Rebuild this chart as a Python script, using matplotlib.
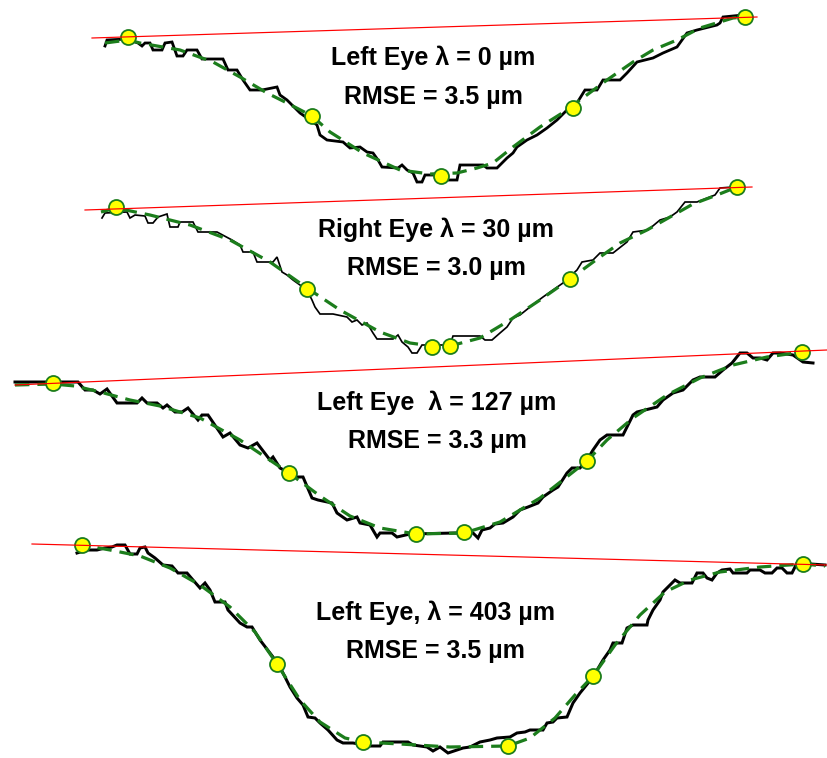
import matplotlib
matplotlib.use("Agg")
import matplotlib.pyplot as plt

# ---------------- data (x = lateral position, y = depth, in image units) ----------------
# Panel 1: Left Eye, lambda = 0
p1_x = [105, 107, 127, 138, 142, 145, 150, 153, 162, 165, 172, 177, 183, 187, 197, 202, 223, 228, 237, 243,
        250, 262, 277, 280, 287, 300, 317, 320, 327, 343, 350, 360, 367, 373, 378, 382, 398, 402, 407, 413,
        417, 422, 425, 437, 447, 457, 460, 483, 487, 497, 507, 513, 517, 527, 537, 547, 557, 567, 577, 585,
        597, 603, 620, 627, 637, 653, 663, 677, 687, 697, 717, 720, 723, 743]
p1_y = [46, 40, 39, 43, 46, 43, 43, 50, 50, 43, 42, 56, 56, 50, 50, 59, 59, 70, 70, 80,
        90, 90, 87, 95, 100, 113, 125, 135, 140, 142, 148, 147, 152, 153, 160, 167, 168, 165, 170, 173,
        182, 182, 175, 175, 180, 180, 165, 165, 168, 168, 158, 153, 147, 140, 135, 128, 120, 110, 103, 90,
        90, 80, 80, 73, 62, 58, 53, 47, 33, 30, 25, 23, 17, 15]
p1_fit_x = [105, 128, 140, 180, 213, 240, 267, 287, 312, 330, 363, 400, 430, 457, 477, 493, 513, 540, 567, 580, 607, 633, 653, 677, 700, 733, 745]
p1_fit_y = [43, 40, 43, 50, 62, 77, 93, 103, 116, 132, 153, 170, 174, 173, 168, 163, 147, 127, 110, 100, 80, 62, 50, 40, 28, 18, 17]
p1_mark_x = [128, 312, 441, 573, 745]
p1_mark_y = [37, 116, 176, 108, 17]
p1_ref_x = [92, 757]
p1_ref_y = [38, 17]

# Panel 2: Right Eye, lambda = 30
p2_x = [102, 105, 127, 130, 135, 145, 148, 153, 158, 167, 170, 178, 180, 193, 198, 217, 232, 240, 243, 253,
        257, 273, 277, 282, 287, 293, 307, 312, 315, 320, 333, 347, 352, 357, 362, 367, 373, 377, 393, 398,
        402, 408, 412, 417, 422, 450, 453, 480, 485, 492, 500, 507, 513, 520, 535, 543, 553, 563, 577, 582,
        593, 600, 613, 627, 633, 648, 660, 670, 677, 685, 697, 715, 720, 733]
p2_y = [218, 213, 212, 218, 215, 216, 223, 223, 217, 214, 227, 227, 222, 222, 232, 232, 240, 245, 252, 252,
        262, 262, 257, 272, 275, 280, 290, 300, 307, 314, 314, 317, 322, 320, 325, 323, 333, 339, 339, 335,
        342, 347, 353, 353, 345, 345, 336, 336, 340, 340, 333, 327, 318, 315, 303, 297, 290, 283, 270, 262,
        260, 253, 253, 242, 232, 230, 220, 217, 212, 202, 202, 195, 188, 187]
p2_fit_x = [101, 116, 150, 190, 230, 270, 307, 340, 380, 410, 432, 450, 480, 510, 540, 570, 600, 620, 647, 670, 693, 717, 737]
p2_fit_y = [212, 208, 215, 225, 240, 262, 288, 310, 332, 343, 346, 346, 338, 320, 300, 279, 257, 243, 230, 217, 204, 195, 187]
p2_mark_x = [116, 307, 432, 450, 570, 737]
p2_mark_y = [207, 289, 347, 346, 279, 187]
p2_ref_x = [85, 752]
p2_ref_y = [210, 187]

# Panel 3: Left Eye, lambda = 127
p3_x = [15, 78, 85, 93, 100, 107, 117, 137, 142, 147, 157, 163, 167, 175, 182, 188, 198, 202, 208, 223,
        230, 240, 248, 257, 270, 273, 280, 297, 303, 312, 318, 332, 337, 347, 357, 360, 370, 377, 380, 392,
        397, 410, 455, 473, 478, 482, 490, 495, 503, 513, 520, 528, 538, 543, 553, 558, 567, 572, 580, 587,
        593, 600, 607, 623, 633, 637, 657, 663, 673, 683, 693, 700, 715, 723, 732, 740, 747, 753, 760, 767,
        773, 780, 793, 803, 813]
p3_y = [382, 382, 390, 390, 394, 389, 403, 403, 398, 403, 403, 408, 405, 412, 412, 408, 420, 415, 415, 437,
        433, 445, 448, 443, 460, 457, 468, 477, 477, 498, 500, 503, 513, 520, 517, 523, 525, 537, 533, 533,
        537, 534, 533, 533, 538, 530, 528, 524, 523, 517, 510, 507, 503, 497, 490, 487, 473, 468, 468, 460,
        450, 440, 435, 435, 415, 412, 407, 400, 393, 390, 380, 377, 377, 370, 363, 353, 353, 358, 358, 360,
        353, 353, 355, 362, 363]
p3_fit_x = [15, 53, 75, 100, 130, 160, 200, 240, 289, 320, 350, 380, 416, 464, 500, 540, 587, 607, 633, 667, 700, 733, 767, 802]
p3_fit_y = [385, 384, 386, 392, 400, 406, 418, 440, 473, 496, 516, 528, 534, 533, 522, 498, 461, 440, 418, 395, 378, 365, 357, 352]
p3_mark_x = [53, 289, 416, 464, 587, 802]
p3_mark_y = [383, 473, 534, 532, 461, 352]
p3_ref_x = [15, 827]
p3_ref_y = [385, 350]

# Panel 4: Left Eye, lambda = 403
p4_x = [77, 87, 97, 105, 112, 117, 125, 130, 137, 140, 145, 148, 155, 163, 172, 178, 187, 193, 200, 205,
        210, 215, 225, 228, 240, 247, 252, 260, 273, 280, 290, 297, 303, 308, 315, 320, 328, 337, 343, 353,
        370, 380, 383, 408, 413, 427, 433, 440, 448, 457, 463, 470, 480, 490, 497, 510, 517, 525, 530, 543,
        547, 553, 557, 567, 573, 580, 593, 603, 610, 613, 622, 627, 633, 647, 648, 653, 660, 663, 668, 675,
        680, 692, 697, 703, 707, 712, 717, 722, 730, 733, 747, 750, 760, 765, 772, 777, 782, 787, 792, 797,
        825]
p4_y = [553, 550, 550, 548, 547, 545, 545, 554, 554, 548, 547, 553, 558, 565, 566, 573, 573, 580, 588, 583,
        590, 602, 602, 610, 623, 627, 627, 640, 657, 667, 687, 698, 705, 717, 718, 723, 730, 740, 743, 743,
        746, 746, 742, 742, 745, 747, 751, 747, 753, 750, 748, 747, 742, 740, 738, 737, 733, 732, 730, 730,
        723, 722, 718, 717, 703, 693, 677, 660, 650, 643, 643, 628, 625, 625, 620, 610, 600, 592, 587, 580,
        583, 583, 573, 573, 578, 580, 573, 570, 569, 573, 573, 570, 570, 573, 573, 568, 568, 573, 573, 563,
        565]
p4_fit_x = [76, 82, 110, 140, 170, 200, 230, 255, 277, 300, 320, 345, 363, 400, 450, 508, 530, 555, 575, 593, 615, 640, 665, 690, 720, 760, 803, 825]
p4_fit_y = [548, 545, 550, 556, 568, 585, 607, 632, 664, 700, 722, 738, 742, 744, 747, 746, 738, 718, 695, 676, 645, 615, 592, 580, 572, 567, 564, 566]
p4_mark_x = [82, 277, 363, 508, 593, 803]
p4_mark_y = [545, 664, 742, 746, 676, 564]
p4_ref_x = [32, 827]
p4_ref_y = [544, 565]

line1_labels = ["Left Eye \u03bb = 0 \u00b5m", "Right Eye \u03bb = 30 \u00b5m",
                "Left Eye  \u03bb = 127 \u00b5m", "Left Eye, \u03bb = 403 \u00b5m"]
line2_labels = ["RMSE = 3.5 \u00b5m", "RMSE = 3.0 \u00b5m", "RMSE = 3.3 \u00b5m", "RMSE = 3.5 \u00b5m"]
label_x = [433, 436, 437, 435]
label_y1 = [58, 230, 403, 613]
label_y2 = [97, 268, 441, 651]

# ---------------- drawing ----------------
W, H = 827, 758
fig = plt.figure(figsize=(W / 100, H / 100), dpi=100)
ax = fig.add_axes([0, 0, 1, 1])
ax.set_xlim(0, W)
ax.set_ylim(H, 0)
ax.axis("off")

px = 0.72  # points per pixel
GREEN = "#1c7d1c"

panels = [
    (p1_x, p1_y, p1_fit_x, p1_fit_y, p1_mark_x, p1_mark_y, p1_ref_x, p1_ref_y, 2.8),
    (p2_x, p2_y, p2_fit_x, p2_fit_y, p2_mark_x, p2_mark_y, p2_ref_x, p2_ref_y, 1.7),
    (p3_x, p3_y, p3_fit_x, p3_fit_y, p3_mark_x, p3_mark_y, p3_ref_x, p3_ref_y, 3.0),
    (p4_x, p4_y, p4_fit_x, p4_fit_y, p4_mark_x, p4_mark_y, p4_ref_x, p4_ref_y, 3.0),
]

for (bx, by, fx, fy, mx, my, rx, ry, blw) in panels:
    ax.plot(bx, by, color="black", lw=blw * px, solid_joinstyle="miter", zorder=2)
    ax.plot(fx, fy, color=GREEN, lw=3.2 * px, dashes=(4.5, 2.5), zorder=3)
    ax.plot(mx, my, "o", ms=15 * px, mfc="#ffff00", mec=GREEN, mew=1.8 * px, zorder=4, ls="none")
    ax.plot(rx, ry, color="#ff0000", lw=1.2 * px, zorder=5)

for i in range(4):
    ax.text(label_x[i], label_y1[i], line1_labels[i], ha="center", va="center",
            fontsize=18, fontweight="bold", family=["Liberation Sans", "DejaVu Sans"], zorder=6)
    ax.text(label_x[i], label_y2[i], line2_labels[i], ha="center", va="center",
            fontsize=18, fontweight="bold", family=["Liberation Sans", "DejaVu Sans"], zorder=6)

fig.savefig("out.png", dpi=100)
